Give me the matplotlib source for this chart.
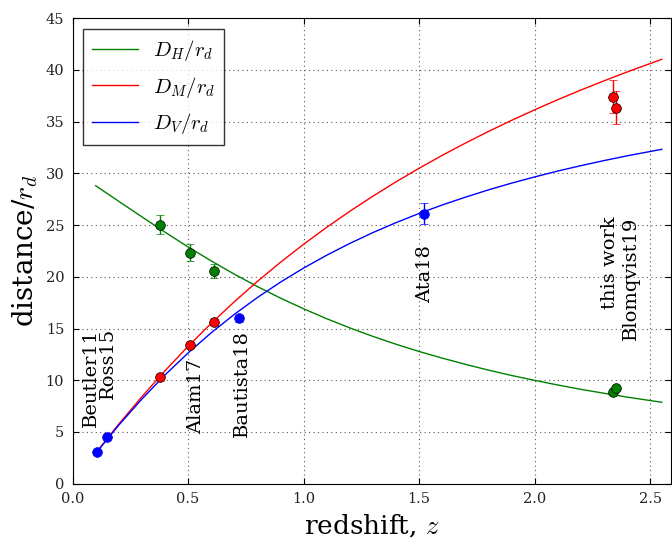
import matplotlib
matplotlib.use("Agg")
import matplotlib.pyplot as plt

plt.rcParams['font.family'] = 'DejaVu Serif'
plt.rcParams['mathtext.fontset'] = 'cm'

# model curves
z_curve = [0.1, 0.2, 0.3, 0.4, 0.5, 0.6, 0.7, 0.8, 0.9, 1.0, 1.1,
           1.2, 1.3, 1.4, 1.5, 1.6, 1.7, 1.8, 1.9, 2.0, 2.1, 2.2, 2.3, 2.4, 2.55]
dh_curve = [28.81, 27.30, 25.80, 24.32, 22.89, 21.54, 20.26, 19.06, 17.94, 16.91, 15.95,
            15.06, 14.24, 13.48, 12.78, 12.14, 11.54, 10.98, 10.46, 9.99, 9.54, 9.12, 8.74, 8.37, 7.87]
dm_curve = [2.95, 5.76, 8.41, 10.92, 13.28, 15.50, 17.59, 19.56, 21.41, 23.15, 24.79,
            26.34, 27.80, 29.19, 30.50, 31.75, 32.93, 34.06, 35.13, 36.15, 37.13, 38.06, 38.95, 39.81, 41.03]
dv_curve = [2.93, 5.66, 8.18, 10.51, 12.64, 14.59, 16.37, 18.00, 19.49, 20.85, 22.09,
            23.23, 24.28, 25.24, 26.13, 26.95, 27.70, 28.41, 29.06, 29.66, 30.23, 30.75, 31.24, 31.70, 32.33]

# measurements
dh_z = [0.38, 0.51, 0.61, 2.338, 2.35]
dh_val = [25.05, 22.35, 20.55, 8.85, 9.22]
dh_err = [0.95, 0.85, 0.65, 0.25, 0.3]

dm_z = [0.38, 0.51, 0.61, 2.338, 2.35]
dm_val = [10.27, 13.37, 15.6, 37.4, 36.35]
dm_err = [0.15, 0.2, 0.25, 1.6, 1.6]

dv_z = [0.106, 0.15, 0.72, 1.52]
dv_val = [3.07, 4.47, 16.0, 26.1]
dv_err = [0.15, 0.17, 0.35, 1.0]

labels = ['Beutler11', 'Ross15', 'Alam17', 'Bautista18', 'Ata18', 'this work\nBlomqvist19']
label_x = [0.081, 0.153, 0.533, 0.732, 1.526, 2.372]
label_y = [5.5, 8.2, 4.8, 4.55, 17.45, 13.9]

fig = plt.figure(figsize=(6.72, 5.38), dpi=100)
ax = fig.add_axes([0.108, 0.101, 0.8905, 0.865])

ax.plot(z_curve, dh_curve, color='g', lw=1, label=r'$D_H/r_d$')
ax.plot(z_curve, dm_curve, color='r', lw=1, label=r'$D_M/r_d$')
ax.plot(z_curve, dv_curve, color='b', lw=1, label=r'$D_V/r_d$')

ax.errorbar(dh_z, dh_val, yerr=dh_err, fmt='o', color='g', mec='k', mew=0.5, ms=7, capsize=3, elinewidth=1)
ax.errorbar(dm_z, dm_val, yerr=dm_err, fmt='o', color='r', mec='k', mew=0.5, ms=7, capsize=3, elinewidth=1)
ax.errorbar(dv_z, dv_val, yerr=dv_err, fmt='o', color='b', mec='b', mew=0.5, ms=7, capsize=3, elinewidth=1)

for t, x, y in zip(labels, label_x, label_y):
    ax.text(x, y, t, rotation=90, ha='center', va='bottom', ma='right', fontsize=14)

ax.set_xlim(0, 2.59)
ax.set_ylim(0, 45)
ax.set_xticks([0.0, 0.5, 1.0, 1.5, 2.0, 2.5])
ax.set_yticks(range(0, 46, 5))
ax.tick_params(direction='in', top=True, right=True, length=4, labelsize=10.5, pad=6,
               labelcolor='#222222')
ax.grid(True, color='0.35', linestyle=(0, (1, 3)), linewidth=0.8)
ax.set_xlabel(r'redshift, $z$', fontsize=19)
ax.set_ylabel(r'distance/$r_d$', fontsize=20)

leg = ax.legend(loc='upper left', fontsize=15, handlelength=2.2, handletextpad=0.7,
                labelspacing=0.55, fancybox=False, borderpad=0.45)
leg.get_frame().set_edgecolor('k')
leg.get_frame().set_linewidth(1)

fig.savefig('out.png', dpi=100)
